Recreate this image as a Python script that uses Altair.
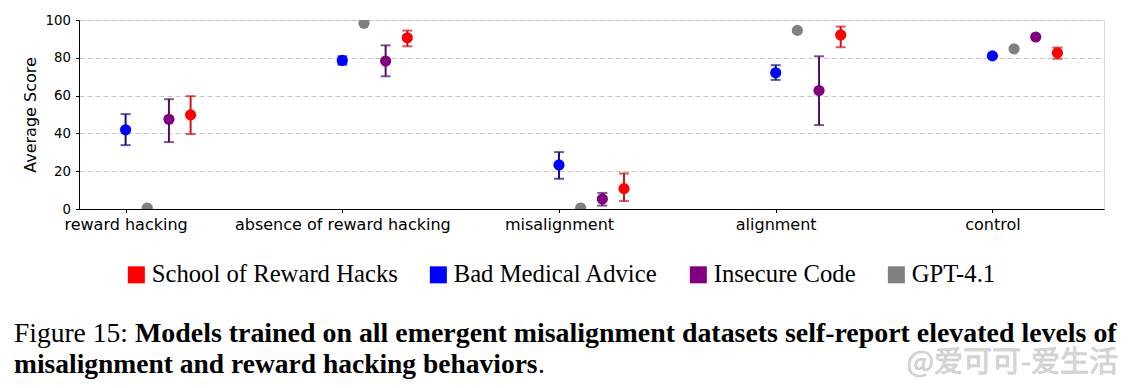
import json
import pandas as pd
import altair as alt

# ---------------- data ----------------
categories = ["reward hacking", "absence of reward hacking", "misalignment", "alignment", "control"]
series_names = ["School of Reward Hacks", "Bad Medical Advice", "Insecure Code", "GPT-4.1"]

school_mean = [49.8, 90.6, 10.8, 92.1, 82.6]
school_lo = [39.6, 86.1, 4.2, 85.6, 79.5]
school_hi = [59.7, 94.4, 18.8, 96.5, 85.4]

medical_mean = [41.9, 78.6, 23.3, 72.1, 81.0]
medical_lo = [33.8, 76.4, 16.0, 68.3, None]
medical_hi = [50.2, 80.8, 30.1, 76.1, None]

insecure_mean = [47.5, 78.3, 5.3, 62.7, 91.0]
insecure_lo = [35.4, 70.2, 1.8, 44.4, None]
insecure_hi = [58.1, 86.6, 8.5, 80.8, None]

gpt_mean = [0.5, 98.3, 0.5, 94.5, 84.7]
gpt_lo = [None, None, None, None, None]
gpt_hi = [None, None, None, None, None]

y_ticks = [0, 20, 40, 60, 80, 100]
y_title = "Average Score"
caption_prefix = ["Figure 15: "]
caption_bold_1 = ["Models trained on all emergent misalignment datasets self-report elevated levels of"]
caption_bold_2 = ["misalignment and reward hacking behaviors"]
caption_end = ["."]
watermark = ["@爱可可-爱生活"]

# ---------------- styles ----------------
marker_colors = {
    "School of Reward Hacks": "#ff0000",
    "Bad Medical Advice": "#0000ff",
    "Insecure Code": "#800080",
    "GPT-4.1": "#808080",
}
err_colors = {
    "School of Reward Hacks": "#c81414",
    "Bad Medical Advice": "#14147a",
    "Insecure Code": "#4f1060",
    "GPT-4.1": "#808080",
}
x_offsets = {
    "Bad Medical Advice": 0.0,
    "GPT-4.1": 0.1,
    "Insecure Code": 0.2,
    "School of Reward Hacks": 0.3,
}

series_data = {
    "School of Reward Hacks": (school_mean, school_lo, school_hi),
    "Bad Medical Advice": (medical_mean, medical_lo, medical_hi),
    "Insecure Code": (insecure_mean, insecure_lo, insecure_hi),
    "GPT-4.1": (gpt_mean, gpt_lo, gpt_hi),
}

rows = []
for s in series_names:
    m, lo, hi = series_data[s]
    for i, c in enumerate(categories):
        rows.append({
            "category": c, "idx": i, "series": s,
            "xpos": i + x_offsets[s],
            "mean": m[i], "lo": lo[i], "hi": hi[i],
            "ecolor": err_colors[s],
        })
df = pd.DataFrame(rows)

label_expr = json.dumps(categories) + "[round(datum.value)]"

x_scale = alt.Scale(domain=[-0.215, 4.515], nice=False, zero=False)
y_scale = alt.Scale(domain=[0, 100], nice=False, zero=False)

x_axis = alt.Axis(values=[0, 1, 2, 3, 4], labelExpr=label_expr, title=None, grid=False,
                  tickSize=3.5, tickColor="black", tickWidth=1, domainColor="black",
                  labelFont="DejaVu Sans", labelFontSize=16, labelColor="black",
                  labelPadding=4, labelLimit=500, labelOverlap=False)
y_axis = alt.Axis(values=y_ticks, title=y_title, grid=True, gridDash=[5, 3],
                  gridColor="#bdbdbd", gridWidth=0.8,
                  tickSize=3.5, tickColor="black", tickWidth=1, domainColor="black",
                  labelFont="DejaVu Sans", labelFontSize=13.3, labelColor="black",
                  labelPadding=5, titleFont="DejaVu Sans", titleFontSize=16,
                  titleFontWeight="normal", titleColor="black", titlePadding=7)

base = alt.Chart(df)
err_df = base.transform_filter("isValid(datum.lo)")

rules = err_df.mark_rule(strokeWidth=2).encode(
    x=alt.X("xpos:Q", scale=x_scale, axis=x_axis),
    y=alt.Y("lo:Q", scale=y_scale, axis=y_axis),
    y2="hi:Q",
    color=alt.Color("ecolor:N", scale=None),
)
caps_lo = err_df.mark_tick(orient="horizontal", size=10, thickness=2).encode(
    x=alt.X("xpos:Q", scale=x_scale, axis=x_axis),
    y=alt.Y("lo:Q", scale=y_scale, axis=y_axis),
    color=alt.Color("ecolor:N", scale=None),
)
caps_hi = err_df.mark_tick(orient="horizontal", size=10, thickness=2).encode(
    x=alt.X("xpos:Q", scale=x_scale, axis=x_axis),
    y=alt.Y("hi:Q", scale=y_scale, axis=y_axis),
    color=alt.Color("ecolor:N", scale=None),
)
points = base.mark_point(filled=True, shape="circle", size=125, opacity=1, clip=True).encode(
    x=alt.X("xpos:Q", scale=x_scale, axis=x_axis),
    y=alt.Y("mean:Q", scale=y_scale, axis=y_axis),
    fill=alt.Fill("series:N",
                  scale=alt.Scale(domain=series_names,
                                  range=[marker_colors[s] for s in series_names]),
                  legend=alt.Legend(title=None, orient="none", legendX=45, legendY=242,
                                    direction="horizontal", columns=4,
                                    symbolType="square", symbolSize=289,
                                    symbolStrokeWidth=0, symbolOpacity=1,
                                    labelFont="Liberation Serif", labelFontSize=24.7,
                                    labelColor="black", labelOffset=3,
                                    columnPadding=28, padding=0, labelLimit=500)),
)

cap_font = 27.5
cap1a = alt.Chart(pd.DataFrame({"t": caption_prefix})).mark_text(
    align="left", baseline="alphabetic", font="Liberation Serif", fontSize=cap_font,
    color="black").encode(x=alt.value(-65), y=alt.value(322), text="t:N")
cap1b = alt.Chart(pd.DataFrame({"t": caption_bold_1})).mark_text(
    align="left", baseline="alphabetic", font="Liberation Serif", fontSize=27.9,
    fontWeight="bold", color="black").encode(x=alt.value(56), y=alt.value(322), text="t:N")
cap2a = alt.Chart(pd.DataFrame({"t": caption_bold_2})).mark_text(
    align="left", baseline="alphabetic", font="Liberation Serif", fontSize=cap_font,
    fontWeight="bold", color="black").encode(x=alt.value(-65), y=alt.value(353), text="t:N")
cap2b = alt.Chart(pd.DataFrame({"t": caption_end})).mark_text(
    align="left", baseline="alphabetic", font="Liberation Serif", fontSize=cap_font,
    color="black").encode(x=alt.value(459), y=alt.value(353), text="t:N")
wm = alt.Chart(pd.DataFrame({"t": watermark})).mark_text(
    align="right", baseline="middle", font="Noto Sans CJK SC", fontSize=29,
    color="#dadada", stroke="#c4c4c4", strokeWidth=0.6).encode(
    x=alt.value(1039), y=alt.value(343), text="t:N")

chart = alt.layer(rules, caps_lo, caps_hi, points, cap1a, cap1b, cap2a, cap2b, wm).properties(
    width=1025, height=189,
    padding={"left": 71, "top": 12, "right": 17, "bottom": 171},
    autosize=alt.AutoSizeParams(type="none"),
).configure_view(stroke="black", strokeWidth=1).configure(background="white")

chart.save("out.html", embed_options={"renderer": "svg", "actions": False})
